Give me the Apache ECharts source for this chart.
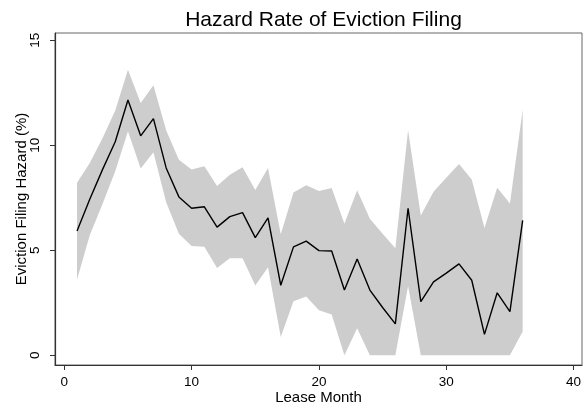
<!DOCTYPE html>
<html>
<head>
<meta charset="utf-8">
<script src="https://cdn.jsdelivr.net/npm/echarts@6/dist/echarts.min.js"></script>
<style>
  html, body { margin: 0; padding: 0; background: #fff; }
  #chart { width: 585px; height: 410px; }
</style>
</head>
<body>
<div id="chart"></div>
<script>
// Lease month of each estimate
const months = [1,2,3,4,5,6,7,8,9,10,11,12,13,14,15,16,17,18,19,20,21,22,23,24,25,26,27,28,29,30,31,32,33,34,35,36];
// Point estimate of the eviction filing hazard (%)
const hazard = [5.92,7.43,8.84,10.17,12.16,10.45,11.27,8.92,7.54,7.0,7.07,6.1,6.6,6.79,5.6,6.54,3.33,5.16,5.43,4.98,4.96,3.1,4.58,3.1,2.27,1.49,7.0,2.55,3.49,3.91,4.35,3.57,0.99,2.97,2.07,6.42];
// Confidence band bounds (%)
const upper = [8.22,9.15,10.33,11.66,13.6,12.02,12.86,10.72,9.31,8.84,9.0,8.06,8.6,8.95,7.87,8.92,5.76,7.75,8.09,7.82,7.96,6.26,7.86,6.5,5.79,5.09,10.72,6.65,7.78,8.45,9.11,8.37,6.06,7.98,7.23,11.69];
const lower = [3.6,5.71,7.2,8.76,10.67,8.89,9.67,7.28,5.79,5.2,5.16,4.15,4.62,4.62,3.32,4.19,0.86,2.57,2.79,2.14,1.94,0,1.28,0,0,0,3.29,0,0,0,0,0,0,0,0,1.13];
// Axis tick values
const xTicks = [0,10,20,30,40];
const yTicks = [0,5,10,15];

const FONT = '"Liberation Sans", Arial, Helvetica, sans-serif';

const bandData = months.map((m, i) => [m, lower[i], upper[i]]);
const linePts = months.map((m, i) => [m, hazard[i]]);

// Shaded band: one polygon running along the upper bound and back along the lower bound
function renderBand(params, api) {
  if (params.dataIndex !== 0) return null;
  const top = bandData.map(d => api.coord([d[0], d[2]]));
  const bottom = bandData.map(d => api.coord([d[0], d[1]])).reverse();
  return {
    type: 'polygon',
    shape: { points: top.concat(bottom) },
    style: { fill: '#cdcdcd', stroke: null },
    silent: true
  };
}

const chart = echarts.init(document.getElementById('chart'), null, { renderer: 'canvas' });
chart.setOption({
  animation: false,
  backgroundColor: '#fff',
  title: {
    text: 'Hazard Rate of Eviction Filing',
    left: 318.5,
    textAlign: 'center',
    top: 5,
    textStyle: { fontFamily: FONT, fontSize: 21, fontWeight: 'normal', color: '#000' }
  },
  grid: {
    left: 55, right: 3, top: 33, bottom: 40,
    show: true, borderColor: '#666', borderWidth: 1, backgroundColor: '#fff'
  },
  xAxis: {
    type: 'value',
    min: -0.73, max: 40.66,
    name: 'Lease Month',
    nameLocation: 'middle',
    nameGap: 25,
    nameMoveOverlap: false,
    nameTextStyle: { fontFamily: FONT, fontSize: 15, color: '#000' },
    splitLine: { show: false },
    axisLine: { show: true, onZero: false, lineStyle: { color: '#333', width: 1.2 } },
    axisTick: { show: true, length: 5, customValues: xTicks, lineStyle: { color: '#333' } },
    axisLabel: { customValues: xTicks, margin: 10, fontFamily: FONT, fontSize: 13.5, color: '#000' }
  },
  yAxis: {
    type: 'value',
    min: -0.47, max: 15.35,
    name: 'Eviction Filing Hazard (%)',
    nameLocation: 'middle',
    nameGap: 26,
    nameMoveOverlap: false,
    nameTextStyle: { fontFamily: FONT, fontSize: 15, color: '#000' },
    splitLine: { show: false },
    axisLine: { show: true, onZero: false, lineStyle: { color: '#333', width: 1.2 } },
    axisTick: { show: true, length: 5, customValues: yTicks, lineStyle: { color: '#333' } },
    axisLabel: {
      customValues: yTicks, rotate: 90, margin: 13,
      align: 'center', verticalAlign: 'bottom',
      fontFamily: FONT, fontSize: 13.5, color: '#000'
    }
  },
  series: [
    {
      name: 'band',
      type: 'custom',
      renderItem: renderBand,
      data: bandData,
      encode: { x: 0, y: [1, 2] },
      silent: true,
      z: 1
    },
    {
      name: 'hazard',
      type: 'line',
      data: linePts,
      symbol: 'none',
      lineStyle: { color: '#000', width: 1.4 },
      z: 5
    }
  ]
});
</script>
</body>
</html>
